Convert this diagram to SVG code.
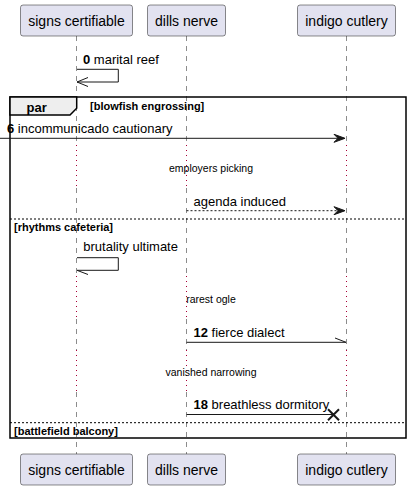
<svg xmlns="http://www.w3.org/2000/svg" width="411" height="490" viewBox="0 0 411 490">
<style>
.pbox{fill:#E2E2F0;stroke:#181818;stroke-width:0.5;}
.ptxt{font-family:"Liberation Sans",Arial,sans-serif;font-size:14px;fill:#000;text-anchor:middle;}
.life{stroke:#181818;stroke-width:0.5;stroke-dasharray:5,5;fill:none;}
.delay{stroke:#A80036;stroke-width:1;stroke-dasharray:1,4;fill:none;}
.msg{stroke:#181818;stroke-width:1;fill:none;}
.dash{stroke-dasharray:2,2;}
.mtxt{font-family:"Liberation Sans",Arial,sans-serif;font-size:13px;fill:#000;}
.num{font-weight:bold;}
.dtxt{font-family:"Liberation Sans",Arial,sans-serif;font-size:10.5px;fill:#000;text-anchor:middle;}
.gtxt{font-family:"Liberation Sans",Arial,sans-serif;font-size:11px;font-weight:bold;fill:#000;}
.frame{fill:none;stroke:#000;stroke-width:1.5;}
.sep{stroke:#000;stroke-width:1;stroke-dasharray:2,2;}
.head{fill:#181818;stroke:#181818;stroke-width:1;}
</style>
<g id="lifelines">
<path class="life" d="M76.5,36V145M76.5,188V276M76.5,319V350M76.5,392V454"/>
<path class="life" d="M186.5,36V145M186.5,188V276M186.5,319V350M186.5,392V454"/>
<path class="life" d="M346.5,36V145M346.5,188V276M346.5,319V350M346.5,392V454"/>
<path class="delay" d="M76.5,145V188M186.5,145V188M346.5,145V188M76.5,276V319M186.5,276V319M346.5,276V319M76.5,350V392M186.5,350V392M346.5,350V392"/>
</g>
<g id="p1">
<rect class="pbox" x="20.5" y="5" width="112" height="31" rx="2.5"/>
<text class="ptxt" x="76.5" y="26">signs certifiable</text>
<rect class="pbox" x="20.5" y="454" width="112" height="31" rx="2.5"/>
<text class="ptxt" x="76.5" y="475">signs certifiable</text>
</g>
<g id="p2">
<rect class="pbox" x="147.5" y="5" width="78" height="31" rx="2.5"/>
<text class="ptxt" x="186.5" y="26">dills nerve</text>
<rect class="pbox" x="147.5" y="454" width="78" height="31" rx="2.5"/>
<text class="ptxt" x="186.5" y="475">dills nerve</text>
</g>
<g id="p3">
<rect class="pbox" x="297.5" y="5" width="98" height="31" rx="2.5"/>
<text class="ptxt" x="346.5" y="26">indigo cutlery</text>
<rect class="pbox" x="297.5" y="454" width="98" height="31" rx="2.5"/>
<text class="ptxt" x="346.5" y="475">indigo cutlery</text>
</g>
<g id="par">
<rect class="frame" x="10" y="97" width="396" height="341"/>
<path d="M10,97H76.7V108.3L70,115H10Z" fill="#EEEEEE" stroke="#000" stroke-width="1.5"/>
<text class="mtxt num" x="26.5" y="111.5">par</text>
<text class="gtxt" x="90" y="110">[blowfish engrossing]</text>
<line class="sep" x1="10" y1="219" x2="406" y2="219"/>
<text class="gtxt" x="14" y="230.5">[rhythms cafeteria]</text>
<line class="sep" x1="10" y1="422.7" x2="406" y2="422.7"/>
<text class="gtxt" x="14" y="435">[battlefield balcony]</text>
</g>
<g id="connectors">
<path class="msg" d="M77,69.3H118.3V82H77"/>
<path class="msg" d="M88,77.5L77,82L88,86.5"/>
<text class="mtxt" x="83" y="64"><tspan class="num">0</tspan> marital reef</text>
<line class="msg" x1="0" y1="138.3" x2="344" y2="138.3"/>
<polygon class="head" points="334,134.3 345,138.3 334,142.3 338,138.3"/>
<text class="mtxt" x="7" y="133.3"><tspan class="num">6</tspan> incommunicado cautionary</text>
<text class="dtxt" x="211" y="171.5">employers picking</text>
<line class="msg dash" x1="186.5" y1="210.7" x2="344" y2="210.7"/>
<polygon class="head" points="334,206.7 345,210.7 334,214.7 338,210.7"/>
<text class="mtxt" x="193.5" y="205.5">agenda induced</text>
<path class="msg" d="M77,257.7H118.3V270.3H77"/>
<line class="msg" x1="77" y1="270.3" x2="88" y2="274.5"/>
<text class="mtxt" x="83.3" y="251">brutality ultimate</text>
<text class="dtxt" x="211" y="302.5">rarest ogle</text>
<line class="msg" x1="186.5" y1="342.3" x2="346" y2="342.3"/>
<line class="msg" x1="335" y1="338" x2="346" y2="342.3"/>
<text class="mtxt" x="193.5" y="336.7"><tspan class="num">12</tspan> fierce dialect</text>
<text class="dtxt" x="211" y="376">vanished narrowing</text>
<line class="msg" x1="186.5" y1="414.5" x2="333.5" y2="414.5"/>
<path d="M328,409.3L339,420.3M339,409.3L328,420.3" stroke="#181818" stroke-width="2"/>
<text class="mtxt" x="193.5" y="409.3"><tspan class="num">18</tspan> breathless dormitory</text>
</g>
</svg>
